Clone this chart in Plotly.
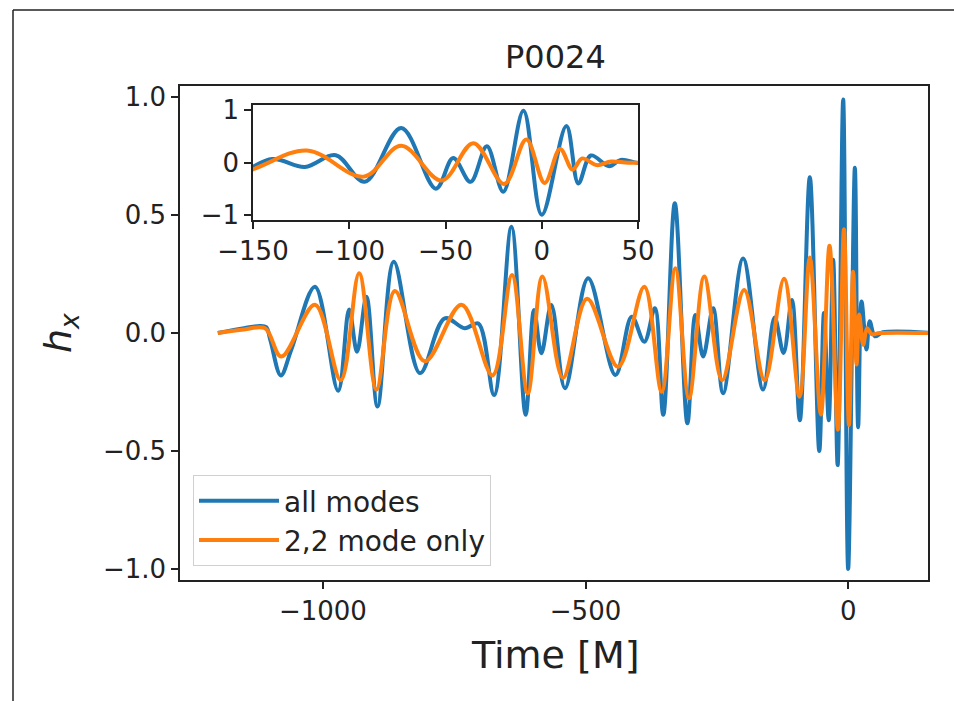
import plotly.graph_objects as go

# waveform turning points (time in M, strain)
t_all = [-1200, -1150, -1120, -1108, -1100, -1080, -1060, -1015, -971, -950, -935, -917, -896,
         -865, -815, -768, -730, -704, -674, -641, -614, -598, -584, -565, -539, -495, -443,
         -412, -388, -368, -352, -330, -306, -291, -276, -257, -238, -200, -162, -140, -123,
         -107, -92, -73, -55, -46, -37, -28.5, -20, -9.5, 0, 12.8, 19, 25.5, 35, 41, 51, 66, 160]
h_all = [0.0, 0.02, 0.03, 0.025, -0.03, -0.18, -0.07, 0.196, -0.245, 0.10, -0.08, 0.154, -0.312,
         0.302, -0.17, 0.062, 0.02, 0.04, -0.263, 0.45, -0.347, 0.097, -0.086, 0.119, -0.234, 0.232, -0.178,
         0.069, -0.037, 0.105, -0.347, 0.55, -0.383, 0.076, -0.10, 0.105, -0.255, 0.316, -0.24, 0.066, -0.085,
         0.14, -0.37, 0.66, -0.50, 0.085, -0.37, 0.31, -0.56, 0.99, -1.0, 0.70, -0.40, 0.134, -0.07, 0.05,
         -0.014, 0.003, 0.0]

t_22 = [-1200, -1150, -1110, -1079, -1015, -966, -931, -898, -863, -806, -736, -677, -640, -610,
        -582, -543, -497, -438, -388, -355, -329, -303, -274, -240, -198, -159, -122, -92.5, -73,
        -52, -35.5, -19.5, -8, 1.5, 9.5, 16, 21, 28.6, 36, 45, 60, 160]
h_22 = [0.0, 0.015, 0.02, -0.10, 0.12, -0.20, 0.253, -0.24, 0.178, -0.12, 0.12, -0.18, 0.246, -0.256,
        0.24, -0.19, 0.145, -0.143, 0.196, -0.249, 0.274, -0.277, 0.239, -0.20, 0.182, -0.20, 0.23, -0.27, 0.32,
        -0.345, 0.37, -0.41, 0.44, -0.39, 0.26, -0.134, 0.078, -0.05, 0.02, -0.005, 0.0, 0.0]

main_xticks = [-1000, -500, 0]
main_xlabels = ["\u22121000", "\u2212500", "0"]
main_yticks = [-1.0, -0.5, 0.0, 0.5, 1.0]
main_ylabels = ["\u22121.0", "\u22120.5", "0.0", "0.5", "1.0"]
inset_xticks = [-150, -100, -50, 0, 50]
inset_xlabels = ["\u2212150", "\u2212100", "\u221250", "0", "50"]
inset_yticks = [-1, 0, 1]
inset_ylabels = ["\u22121", "0", "1"]

BLUE = "#1f77b4"
ORANGE = "#ff7f0e"
FONT = "DejaVu Sans"
W, H = 954, 701

fig = go.Figure()
fig.add_trace(go.Scatter(x=t_all, y=h_all, mode="lines", name="all modes",
                         line=dict(color=BLUE, width=4, shape="spline", smoothing=1)))
fig.add_trace(go.Scatter(x=t_22, y=h_22, mode="lines", name="2,2 mode only",
                         line=dict(color=ORANGE, width=4, shape="spline", smoothing=1)))
# zoomed inset
fig.add_trace(go.Scatter(x=t_all, y=h_all, mode="lines", showlegend=False, xaxis="x2", yaxis="y2",
                         line=dict(color=BLUE, width=4, shape="spline", smoothing=1)))
fig.add_trace(go.Scatter(x=t_22, y=h_22, mode="lines", showlegend=False, xaxis="x2", yaxis="y2",
                         line=dict(color=ORANGE, width=4, shape="spline", smoothing=1)))

axis_style = dict(showgrid=False, zeroline=False, showline=True, mirror=True, linecolor="#222",
                  linewidth=1.5, ticks="outside", ticklen=7, tickwidth=1.5, tickcolor="#222",
                  tickfont=dict(family=FONT, size=26, color="#222"), automargin=False)

fig.update_layout(
    width=W, height=H,
    margin=dict(l=0, r=0, t=0, b=0),
    paper_bgcolor="white", plot_bgcolor="white",
    font=dict(family=FONT, color="#222"),
    xaxis=dict(domain=[180 / W, 928 / W], range=[-1272, 152], tickvals=main_xticks,
               ticktext=main_xlabels, anchor="y", **axis_style),
    yaxis=dict(domain=[1 - 580 / H, 1 - 86 / H], range=[-1.047, 1.047], tickvals=main_yticks,
               ticktext=main_ylabels, anchor="x", **axis_style),
    xaxis2=dict(domain=[253 / W, 638 / W], range=[-150, 50], tickvals=inset_xticks,
                ticktext=inset_xlabels, anchor="y2", **axis_style),
    yaxis2=dict(domain=[1 - 220 / H, 1 - 105 / H], range=[-1.1, 1.1], tickvals=inset_yticks,
                ticktext=inset_ylabels, anchor="x2", **axis_style),
    legend=dict(x=193 / W, y=1 - 475 / H, xanchor="left", yanchor="top",
                bgcolor="white", bordercolor="#d0d0d0", borderwidth=1, itemwidth=80,
                font=dict(family=FONT, size=28, color="#222")),
    showlegend=True,
    annotations=[
        dict(text="P0024", x=555 / W, y=1 - 57 / H, xref="paper", yref="paper",
             xanchor="center", yanchor="middle",
             showarrow=False, font=dict(family=FONT, size=32, color="#222")),
        dict(text="Time [M]", x=555 / W, y=1 - 655 / H, xref="paper", yref="paper",
             xanchor="center", yanchor="middle",
             showarrow=False, font=dict(family=FONT, size=38, color="#222")),
        dict(text="<i>h<sub>x</sub></i>", x=60 / W, y=1 - 333 / H, xref="paper", yref="paper",
             xanchor="center", yanchor="middle",
             showarrow=False, textangle=-90, font=dict(family=FONT, size=38, color="#222")),
    ],
    shapes=[
        dict(type="line", xref="paper", yref="paper", x0=13 / W, x1=1, y0=1 - 10 / H, y1=1 - 10 / H,
             line=dict(color="#222", width=1.5)),
        dict(type="line", xref="paper", yref="paper", x0=13 / W, x1=13 / W, y0=0, y1=1 - 10 / H,
             line=dict(color="#222", width=1.5)),
    ],
)

fig.write_html("out.html", config={"displayModeBar": False},
               post_script="document.body.style.margin='0';")
